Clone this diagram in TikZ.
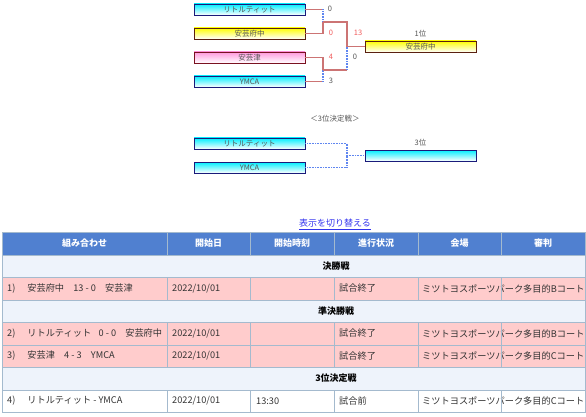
\documentclass[tikz,border=0pt]{standalone}
\usepackage{fontspec}
\setmainfont{Noto Sans CJK JP}
\definecolor{boxblue}{HTML}{1A1A7A}
\definecolor{boxbrown}{HTML}{5A2010}
\definecolor{boxred}{HTML}{7A1020}
\definecolor{boxcyan}{HTML}{00EEFF}
\definecolor{boxyellow}{HTML}{FFFF00}
\definecolor{boxpink}{HTML}{FF99DD}
\definecolor{winline}{HTML}{CC7474}
\definecolor{loseline}{HTML}{5F86F0}
\definecolor{scorered}{HTML}{F05A5A}
\definecolor{txtgray}{HTML}{555555}
\definecolor{headblue}{HTML}{5080D0}
\definecolor{secblue}{HTML}{EEF3FB}
\definecolor{rowpink}{HTML}{FFCCCC}
\definecolor{gridline}{HTML}{A4BACE}
\definecolor{linkblue}{HTML}{3333EE}
\begin{document}
\begin{tikzpicture}[x=1pt, y=-1pt,
    team/.style={rectangle, line width=0.9pt, minimum width=111pt, minimum height=11pt, inner sep=0pt, font=\fontsize{7.5}{8}\selectfont, text=txtgray},
    tcyan/.style={team, draw=boxblue, top color=boxcyan, bottom color=white},
    tyellow/.style={team, draw=boxbrown, top color=boxyellow, bottom color=white},
    tpink/.style={team, draw=boxred, top color=boxpink, bottom color=white},
    score/.style={font=\fontsize{7.5}{8}\selectfont, text=txtgray, inner sep=0pt},
    hit/.style={score, text=scorered},
    win/.style={draw=winline, line width=1.5pt},
    lose/.style={draw=loseline, line width=1.2pt, dash pattern=on 0.9pt off 0.7pt},
    head/.style={font=\fontsize{9}{10}\selectfont\bfseries, text=white},
    sect/.style={font=\fontsize{9}{10}\selectfont\bfseries, text=black},
    cell/.style={anchor=west, font=\fontsize{9.2}{10}\selectfont, text=black!80, inner sep=0pt},
    grid/.style={draw=gridline, line width=1pt}
]
\useasboundingbox (0,0) rectangle (586,417);
% bracket
\node[tcyan] (b1) at (249.5,9.5) {リトルティット};
\node[tyellow] (b2) at (249.5,33.5) {安芸府中};
\node[tpink] (b3) at (249.5,57.5) {安芸津};
\node[tcyan] (b4) at (249.5,81.5) {YMCA};
\node[tyellow] (w) at (420.5,46.5) {安芸府中};
\node[score] (rank1) at (420.5,34) {1位};
\coordinate (m1) at (323,22);
\coordinate (m2) at (323,70);
\coordinate (c) at (347,46.5);
\draw[win] (b1.east) -- (b1.east -| m1);
\draw[lose] (b1.east -| m1) -- (m1);
\draw[win] (b2.east) -| (m1);
\draw[win] (b3.east) -| (m2);
\draw[win] (b4.east) -- (b4.east -| m2);
\draw[lose] (b4.east -| m2) -- (m2);
\draw[win] (m1) -| (c) -- (w.west);
\draw[win] (m2) -- (m2 -| c);
\draw[lose] (m2 -| c) -- (c);
\node[score] (s1) at (330,8.5) {0};
\node[hit] (s2) at (331,33) {0};
\node[hit] (s3) at (358,33) {13};
\node[score] (s4) at (355,57) {0};
\node[hit] (s5) at (331,57) {4};
\node[score] (s6) at (331,81) {3};
% third place
\node[score] (third) at (335,119) {＜3位決定戦＞};
\node[tcyan] (t1) at (249.5,143.5) {リトルティット};
\node[tcyan] (t2) at (249.5,167.5) {YMCA};
\node[tcyan] (t3) at (420.5,155.5) {};
\node[score] (rank3) at (420.5,143) {3位};
\coordinate (k) at (347,155.5);
\draw[lose] (t1.east) -| (k);
\draw[lose] (t2.east) -| (k);
\draw[lose] (k) -- (t3.west);
% table
\node[font=\fontsize{9}{10}\selectfont, text=linkblue, inner sep=0pt] (toggle) at (335,224.5) {\underline{表示を切り替える}};
\fill[headblue] (2,232) rectangle (585,255);
\fill[secblue] (2,255) rectangle (585,277);
\fill[rowpink] (2,277) rectangle (585,300);
\fill[secblue] (2,300) rectangle (585,322);
\fill[rowpink] (2,322) rectangle (585,367);
\fill[secblue] (2,367) rectangle (585,390);
\fill[white] (2,390) rectangle (585,412);
\node[head] (h1) at (84.5,243.5) {組み合わせ};
\node[head] (h2) at (208.5,243.5) {開始日};
\node[head] (h3) at (292,243.5) {開始時刻};
\node[head] (h4) at (376,243.5) {進行状況};
\node[head] (h5) at (459.5,243.5) {会場};
\node[head] (h6) at (543,243.5) {審判};
\node[sect] (final) at (336,266) {決勝戦};
\node[sect] (semi) at (336,311) {準決勝戦};
\node[sect] (bronze) at (336,378.5) {3位決定戦};
\node[cell] (r1a) at (7,288.5) {1)\hspace{1.3em}安芸府中\hspace{1em}13 - 0\hspace{1em}安芸津};
\node[cell] (r1b) at (172,288.5) {2022/10/01};
\node[cell] (r1d) at (339,288.5) {試合終了};
\node[cell] (r1e) at (422,288.5) {ミツトヨスポーツパーク多目的Bコート};
\node[cell] (r2a) at (7,333.5) {2)\hspace{1.3em}リトルティット\hspace{0.8em}0 - 0\hspace{1em}安芸府中};
\node[cell] (r2b) at (172,333.5) {2022/10/01};
\node[cell] (r2d) at (339,333.5) {試合終了};
\node[cell] (r2e) at (422,333.5) {ミツトヨスポーツパーク多目的Bコート};
\node[cell] (r3a) at (7,356) {3)\hspace{1.3em}安芸津\hspace{1em}4 - 3\hspace{1em}YMCA};
\node[cell] (r3b) at (172,356) {2022/10/01};
\node[cell] (r3d) at (339,356) {試合終了};
\node[cell] (r3e) at (422,356) {ミツトヨスポーツパーク多目的Cコート};
\node[cell] (r4a) at (7,401) {4)\hspace{1.3em}リトルティット - YMCA};
\node[cell] (r4b) at (172,401) {2022/10/01};
\node[cell] (r4c) at (256,401) {13:30};
\node[cell] (r4d) at (339,401) {試合前};
\node[cell] (r4e) at (422,401) {ミツトヨスポーツパーク多目的Cコート};
\foreach \y in {255,277,300,322,345,367,390}
  \draw[grid] (2,\y) -- (585,\y);
\foreach \x in {167,250,334,418,501} {
  \draw[grid] (\x,232) -- (\x,255);
  \draw[grid] (\x,277) -- (\x,300);
  \draw[grid] (\x,322) -- (\x,367);
  \draw[grid] (\x,390) -- (\x,412);
}
\draw[grid] (2,232) rectangle (585,412);
\end{tikzpicture}
\end{document}
